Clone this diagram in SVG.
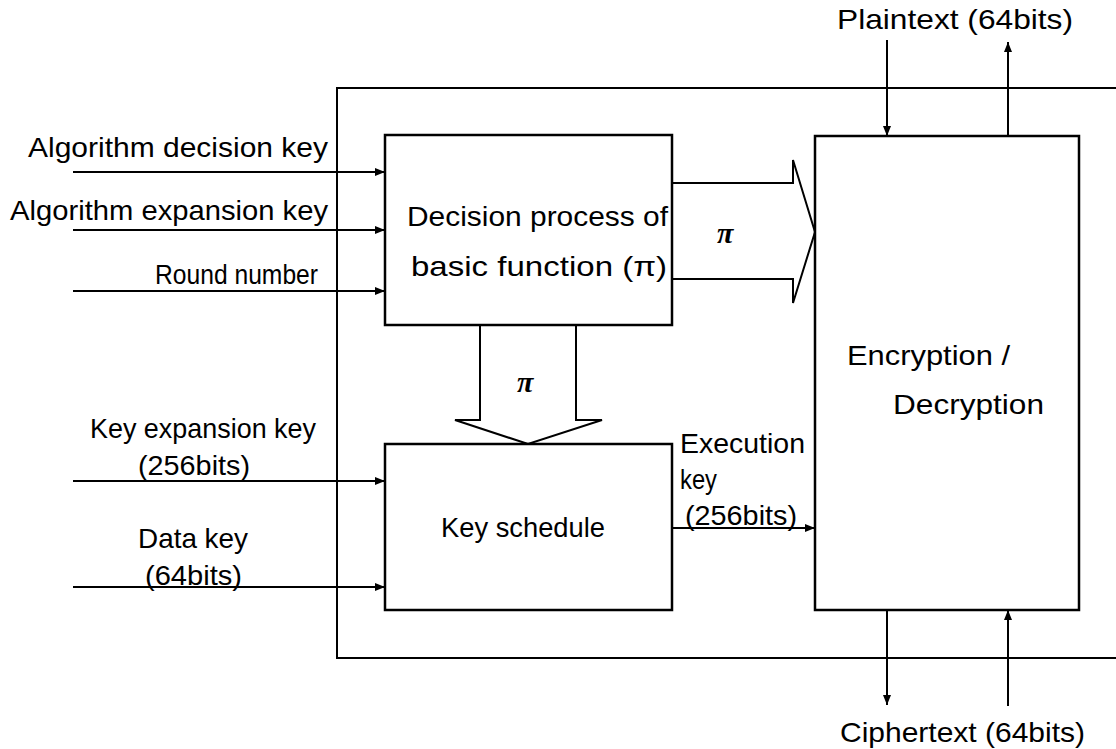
<svg xmlns="http://www.w3.org/2000/svg" width="1116" height="749" viewBox="0 0 1116 749">
<defs>
<style>
.ln{stroke:#000;stroke-width:2;fill:none}
.bx{stroke:#000;stroke-width:2.5;fill:#fff}
.t{font-family:"Liberation Sans",Arial,sans-serif;font-size:28px;fill:#000}
.pi{font-family:"Liberation Serif","Times New Roman",serif;font-size:30px;font-style:italic;font-weight:bold;fill:#000}
</style>
<marker id="ah" markerWidth="10" markerHeight="8" refX="10" refY="4" orient="auto" markerUnits="userSpaceOnUse">
<path d="M0,0 L10,4 L0,8 Z" fill="#000"/>
</marker>
</defs>
<rect width="1116" height="749" fill="#fff"/>
<g id="outer">
<path class="ln" d="M1116,88 L337,88 L337,658 L1116,658"/>
</g>
<g id="connectors">
<line class="ln" x1="73" y1="172" x2="385" y2="172" marker-end="url(#ah)"/>
<line class="ln" x1="73" y1="230" x2="385" y2="230" marker-end="url(#ah)"/>
<line class="ln" x1="73" y1="291" x2="385" y2="291" marker-end="url(#ah)"/>
<line class="ln" x1="73" y1="481" x2="385" y2="481" marker-end="url(#ah)"/>
<line class="ln" x1="73" y1="587" x2="385" y2="587" marker-end="url(#ah)"/>
<line class="ln" x1="672" y1="528" x2="815" y2="528" marker-end="url(#ah)"/>
<line class="ln" x1="887" y1="40" x2="887" y2="136" marker-end="url(#ah)"/>
<line class="ln" x1="1008" y1="136" x2="1008" y2="42" marker-end="url(#ah)"/>
<line class="ln" x1="887" y1="610" x2="887" y2="705" marker-end="url(#ah)"/>
<line class="ln" x1="1008" y1="706" x2="1008" y2="610" marker-end="url(#ah)"/>
<path class="ln" d="M672,183 L793,183 L793,160 L815,232 L793,303 L793,279 L672,279"/>
<path class="ln" d="M480,325 L480,420 L455,420 L528,444 L602,420 L576,420 L576,325"/>
<text class="pi" x="717" y="243">π</text>
<text class="pi" x="517" y="392">π</text>
</g>
<g id="decision">
<rect class="bx" x="385" y="135" width="287" height="190"/>
<text class="t" x="407" y="226" textLength="261" lengthAdjust="spacingAndGlyphs">Decision process of</text>
<text class="t" x="411" y="276" textLength="256" lengthAdjust="spacingAndGlyphs">basic function (π)</text>
</g>
<g id="keyschedule">
<rect class="bx" x="385" y="444" width="287" height="166"/>
<text class="t" x="441" y="537" textLength="164" lengthAdjust="spacingAndGlyphs">Key schedule</text>
</g>
<g id="encdec">
<rect class="bx" x="815" y="136" width="264" height="474"/>
<text class="t" x="847" y="365" textLength="163" lengthAdjust="spacingAndGlyphs">Encryption /</text>
<text class="t" x="893" y="414" textLength="151" lengthAdjust="spacingAndGlyphs">Decryption</text>
</g>
<g id="labels">
<text class="t" x="28" y="157" textLength="300" lengthAdjust="spacingAndGlyphs">Algorithm decision key</text>
<text class="t" x="10" y="220" textLength="318" lengthAdjust="spacingAndGlyphs">Algorithm expansion key</text>
<text class="t" x="155" y="284" textLength="163" lengthAdjust="spacingAndGlyphs">Round number</text>
<text class="t" x="90" y="438" textLength="226" lengthAdjust="spacingAndGlyphs">Key expansion key</text>
<text class="t" x="138" y="475" textLength="112" lengthAdjust="spacingAndGlyphs">(256bits)</text>
<text class="t" x="138" y="548" textLength="110" lengthAdjust="spacingAndGlyphs">Data key</text>
<text class="t" x="145" y="585" textLength="97" lengthAdjust="spacingAndGlyphs">(64bits)</text>
<text class="t" x="680" y="453" textLength="125" lengthAdjust="spacingAndGlyphs">Execution</text>
<text class="t" x="680" y="489" textLength="37" lengthAdjust="spacingAndGlyphs">key</text>
<text class="t" x="685" y="525" textLength="112" lengthAdjust="spacingAndGlyphs">(256bits)</text>
<text class="t" x="837" y="29" textLength="236" lengthAdjust="spacingAndGlyphs">Plaintext (64bits)</text>
<text class="t" x="840" y="742" textLength="245" lengthAdjust="spacingAndGlyphs">Ciphertext (64bits)</text>
</g>
</svg>
